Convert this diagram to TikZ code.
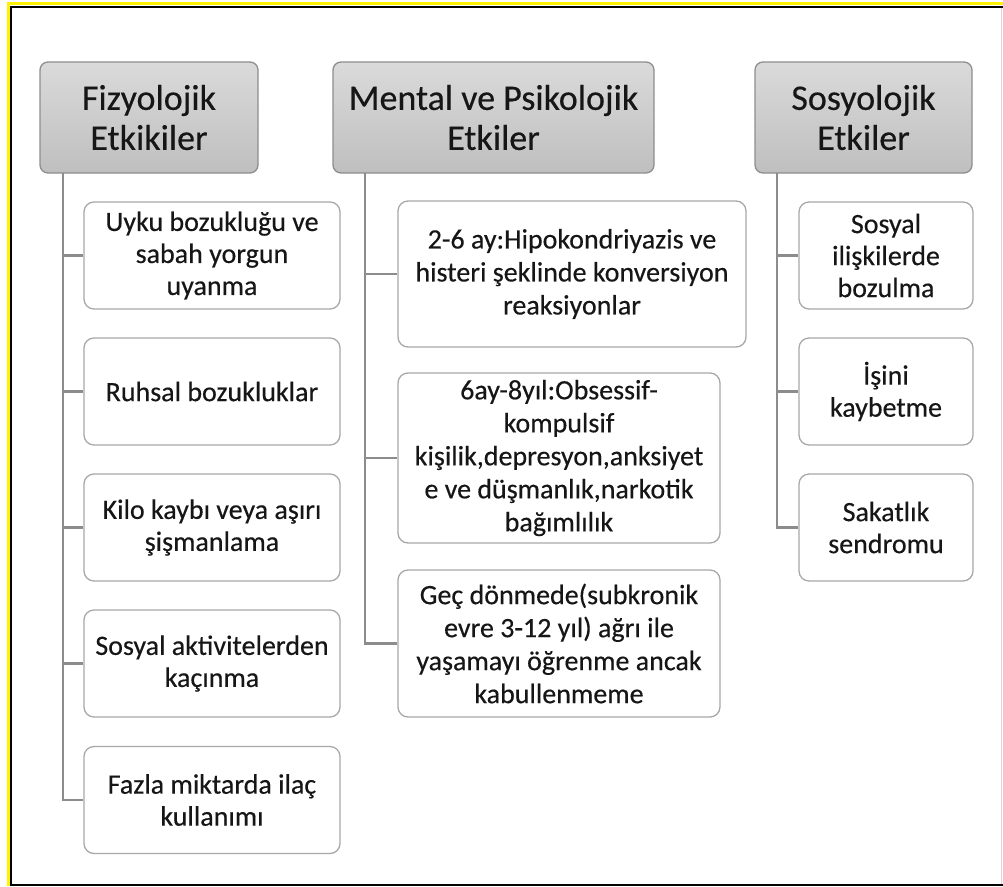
\documentclass[tikz,border=0pt]{standalone}
\usepackage{fontspec}
\setmainfont{Carlito}[FakeBold=0.35]
\begin{document}
\begin{tikzpicture}[x=1pt,y=-1pt,
  hdr/.style={draw=hdrline, line width=1.3pt, rounded corners=8pt,
    top color=hdrtop, bottom color=hdrbot, align=center, inner sep=0pt,
    text=txt, font=\fontsize{36}{40}\selectfont},
  item/.style={draw=boxline, line width=1.3pt, rounded corners=10pt,
    fill=white, align=center, inner sep=0pt, text=txt},
  colA/.style={item, minimum width=256pt, minimum height=107pt,
    font=\fontsize{28}{32}\selectfont},
  colB/.style={item, minimum width=322pt,
    font=\fontsize{28}{33}\selectfont},
  colC/.style={item, minimum width=174pt, minimum height=107pt,
    font=\fontsize{28}{32}\selectfont},
  conn/.style={draw=connline, line width=2.5pt}
]
\definecolor{hdrtop}{HTML}{DADADA}
\definecolor{hdrbot}{HTML}{BFBFBF}
\definecolor{hdrline}{HTML}{8E8E8E}
\definecolor{boxline}{HTML}{A8A8A8}
\definecolor{connline}{HTML}{8C8C8C}
\definecolor{txt}{HTML}{161616}

% canvas and frame
\useasboundingbox (0,0) rectangle (1003,886);
\fill[white] (0,0) rectangle (1003,886);
\draw[yellow, line width=3pt] (8.5,886) -- (8.5,3.5) -- (1003,3.5);
\draw[black, line width=2pt] (1003,6.5) -- (11,6.5) -- (11,884.5) -- (1003,884.5);
\draw[black!15, line width=1pt] (1001.5,7.5) -- (1001.5,883.5);

% column headers
\node[hdr, minimum width=218pt, minimum height=111pt] (h1) at (149,117.5) {Fizyolojik\\Etkikiler};
\node[hdr, minimum width=321pt, minimum height=111pt] (h2) at (493.5,117.5) {Mental ve Psikolojik\\Etkiler};
\node[hdr, minimum width=217pt, minimum height=111pt] (h3) at (863.5,117.5) {Sosyolojik\\Etkiler};

% physiological effects
\node[colA] (a1) at (212,255.5) {Uyku bozukluğu ve\\sabah yorgun\\uyanma};
\node[colA] (a2) at (212,391.5) {Ruhsal bozukluklar};
\node[colA] (a3) at (212,527.5) {Kilo kaybı veya aşırı\\şişmanlama};
\node[colA] (a4) at (212,663.5) {Sosyal aktivitelerden\\kaçınma};
\node[colA] (a5) at (212,800) {Fazla miktarda ilaç\\kullanımı};

% mental and psychological effects
\node[colB, minimum width=348pt, minimum height=146pt] (b1) at (572,274) {2-6 ay:Hipokondriyazis ve\\histeri şeklinde konversiyon\\reaksiyonlar};
\node[colB, minimum height=170pt] (b2) at (559,458) {6ay-8yıl:Obsessif-\\kompulsif\\kişilik,depresyon,anksiyet\\e ve düşmanlık,narkotik\\bağımlılık};
\node[colB, minimum height=147pt] (b3) at (559,643.5) {Geç dönmede(subkronik\\evre 3-12 yıl) ağrı ile\\yaşamayı öğrenme ancak\\kabullenmeme};

% sociological effects
\node[colC] (c1) at (886,255.5) {Sosyal\\ilişkilerde\\bozulma};
\node[colC] (c2) at (886,391.5) {İşini\\kaybetme};
\node[colC] (c3) at (886,527.5) {Sakatlık\\sendromu};

% trunk start points under the headers
\coordinate (t1) at (63,173);
\coordinate (t2) at (365,173);
\coordinate (t3) at (777,173);

% connectors
\foreach \n in {a1,a2,a3,a4,a5} \draw[conn] (t1) |- (\n.west);
\foreach \n in {b1,b2,b3} \draw[conn] (t2) |- (\n.west);
\foreach \n in {c1,c2,c3} \draw[conn] (t3) |- (\n.west);
\end{tikzpicture}
\end{document}
